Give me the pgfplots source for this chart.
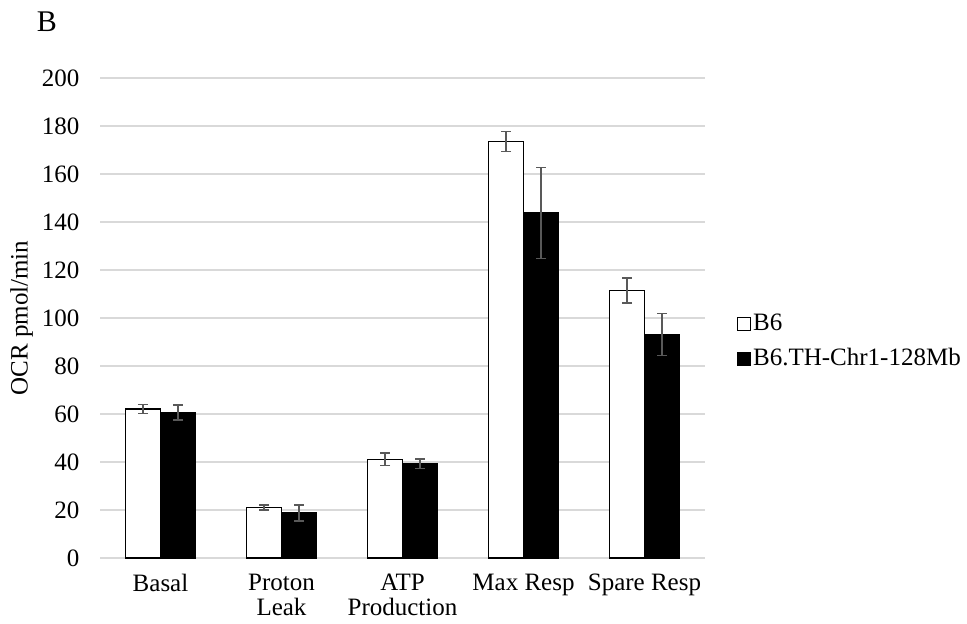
\documentclass[border=0pt]{standalone}
\usepackage{pgfplots}
\usepackage{pgfplotstable}
\pgfplotsset{compat=1.18}
\usepackage{fontspec}
\setmainfont{Liberation Serif}
\definecolor{gridgray}{HTML}{D9D9D9}
\definecolor{errgray}{HTML}{595959}
\pgfplotstableread{
x y err
0 62.1 1.8
1 21.0 1.0
2 41.1 2.6
3 173.6 4.2
4 111.4 5.2
}\tableA
\pgfplotstableread{
x y err
0 60.7 3.1
1 18.7 3.3
2 39.3 2.0
3 143.8 19.0
4 93.1 8.7
}\tableB
\pgfplotsset{
  sqlegend/.style={legend image code/.code={\draw[##1, line width=0.75pt] (0pt,-3.2pt) rectangle (6.4pt,3.2pt);}},
}
\begin{document}
\begin{tikzpicture}[font=\fontsize{12.5}{12.5}\selectfont]
\useasboundingbox (0,0) rectangle (483.5pt,311.5pt);
\begin{axis}[
  at={(50pt,32.5pt)}, anchor=south west,
  scale only axis, width=302.5pt, height=240pt,
  ymin=0, ymax=200, ytick={0,20,...,200},
  xmin=-0.5, xmax=4.5, xtick={0,1,2,3,4},
  xticklabels={Basal, {Proton\\Leak}, {ATP\\Production}, Max Resp, Spare Resp},
  xticklabel style={align=center, yshift=-4.5pt},
  yticklabel style={xshift=-6.8pt},
  /pgf/number format/assume math mode=true,
  major tick length=0pt,
  axis x line*=bottom, axis y line*=left,
  x axis line style={draw=none}, y axis line style={draw=none},
  ymajorgrids, grid style={gridgray, line width=0.75pt},
  ybar=0pt, bar width=17.5pt,
  ylabel={OCR pmol/min},
  ylabel style={at={(axis description cs:-0.1294,0.5)}, anchor=center},
  title={B},
  every axis title shift=0pt,
  title style={at={(axis description cs:-0.088,1.117)}, anchor=center, font=\fontsize{15}{18}\selectfont},
  legend style={at={(axis description cs:1.052,0.451)}, anchor=west, draw=none, fill=none,
    row sep=5.5pt, inner sep=0pt, nodes={inner sep=1pt}},
  legend cell align=left,
]
\addplot[ybar, sqlegend, draw=black, fill=white, line width=0.75pt,
  error bars/.cd, y dir=both, y explicit,
  error bar style={errgray, line width=0.75pt},
  error mark options={errgray, rotate=90, mark size=2.5pt, line width=0.75pt}]
  table[x=x, y=y, y error=err]{\tableA};
\addlegendentry{B6}
\addplot[ybar, sqlegend, draw=black, fill=black, line width=0.75pt,
  error bars/.cd, y dir=both, y explicit,
  error bar style={errgray, line width=0.75pt},
  error mark options={errgray, rotate=90, mark size=2.5pt, line width=0.75pt}]
  table[x=x, y=y, y error=err]{\tableB};
\addlegendentry{B6.TH-Chr1-128Mb}
\end{axis}
\end{tikzpicture}
\end{document}
